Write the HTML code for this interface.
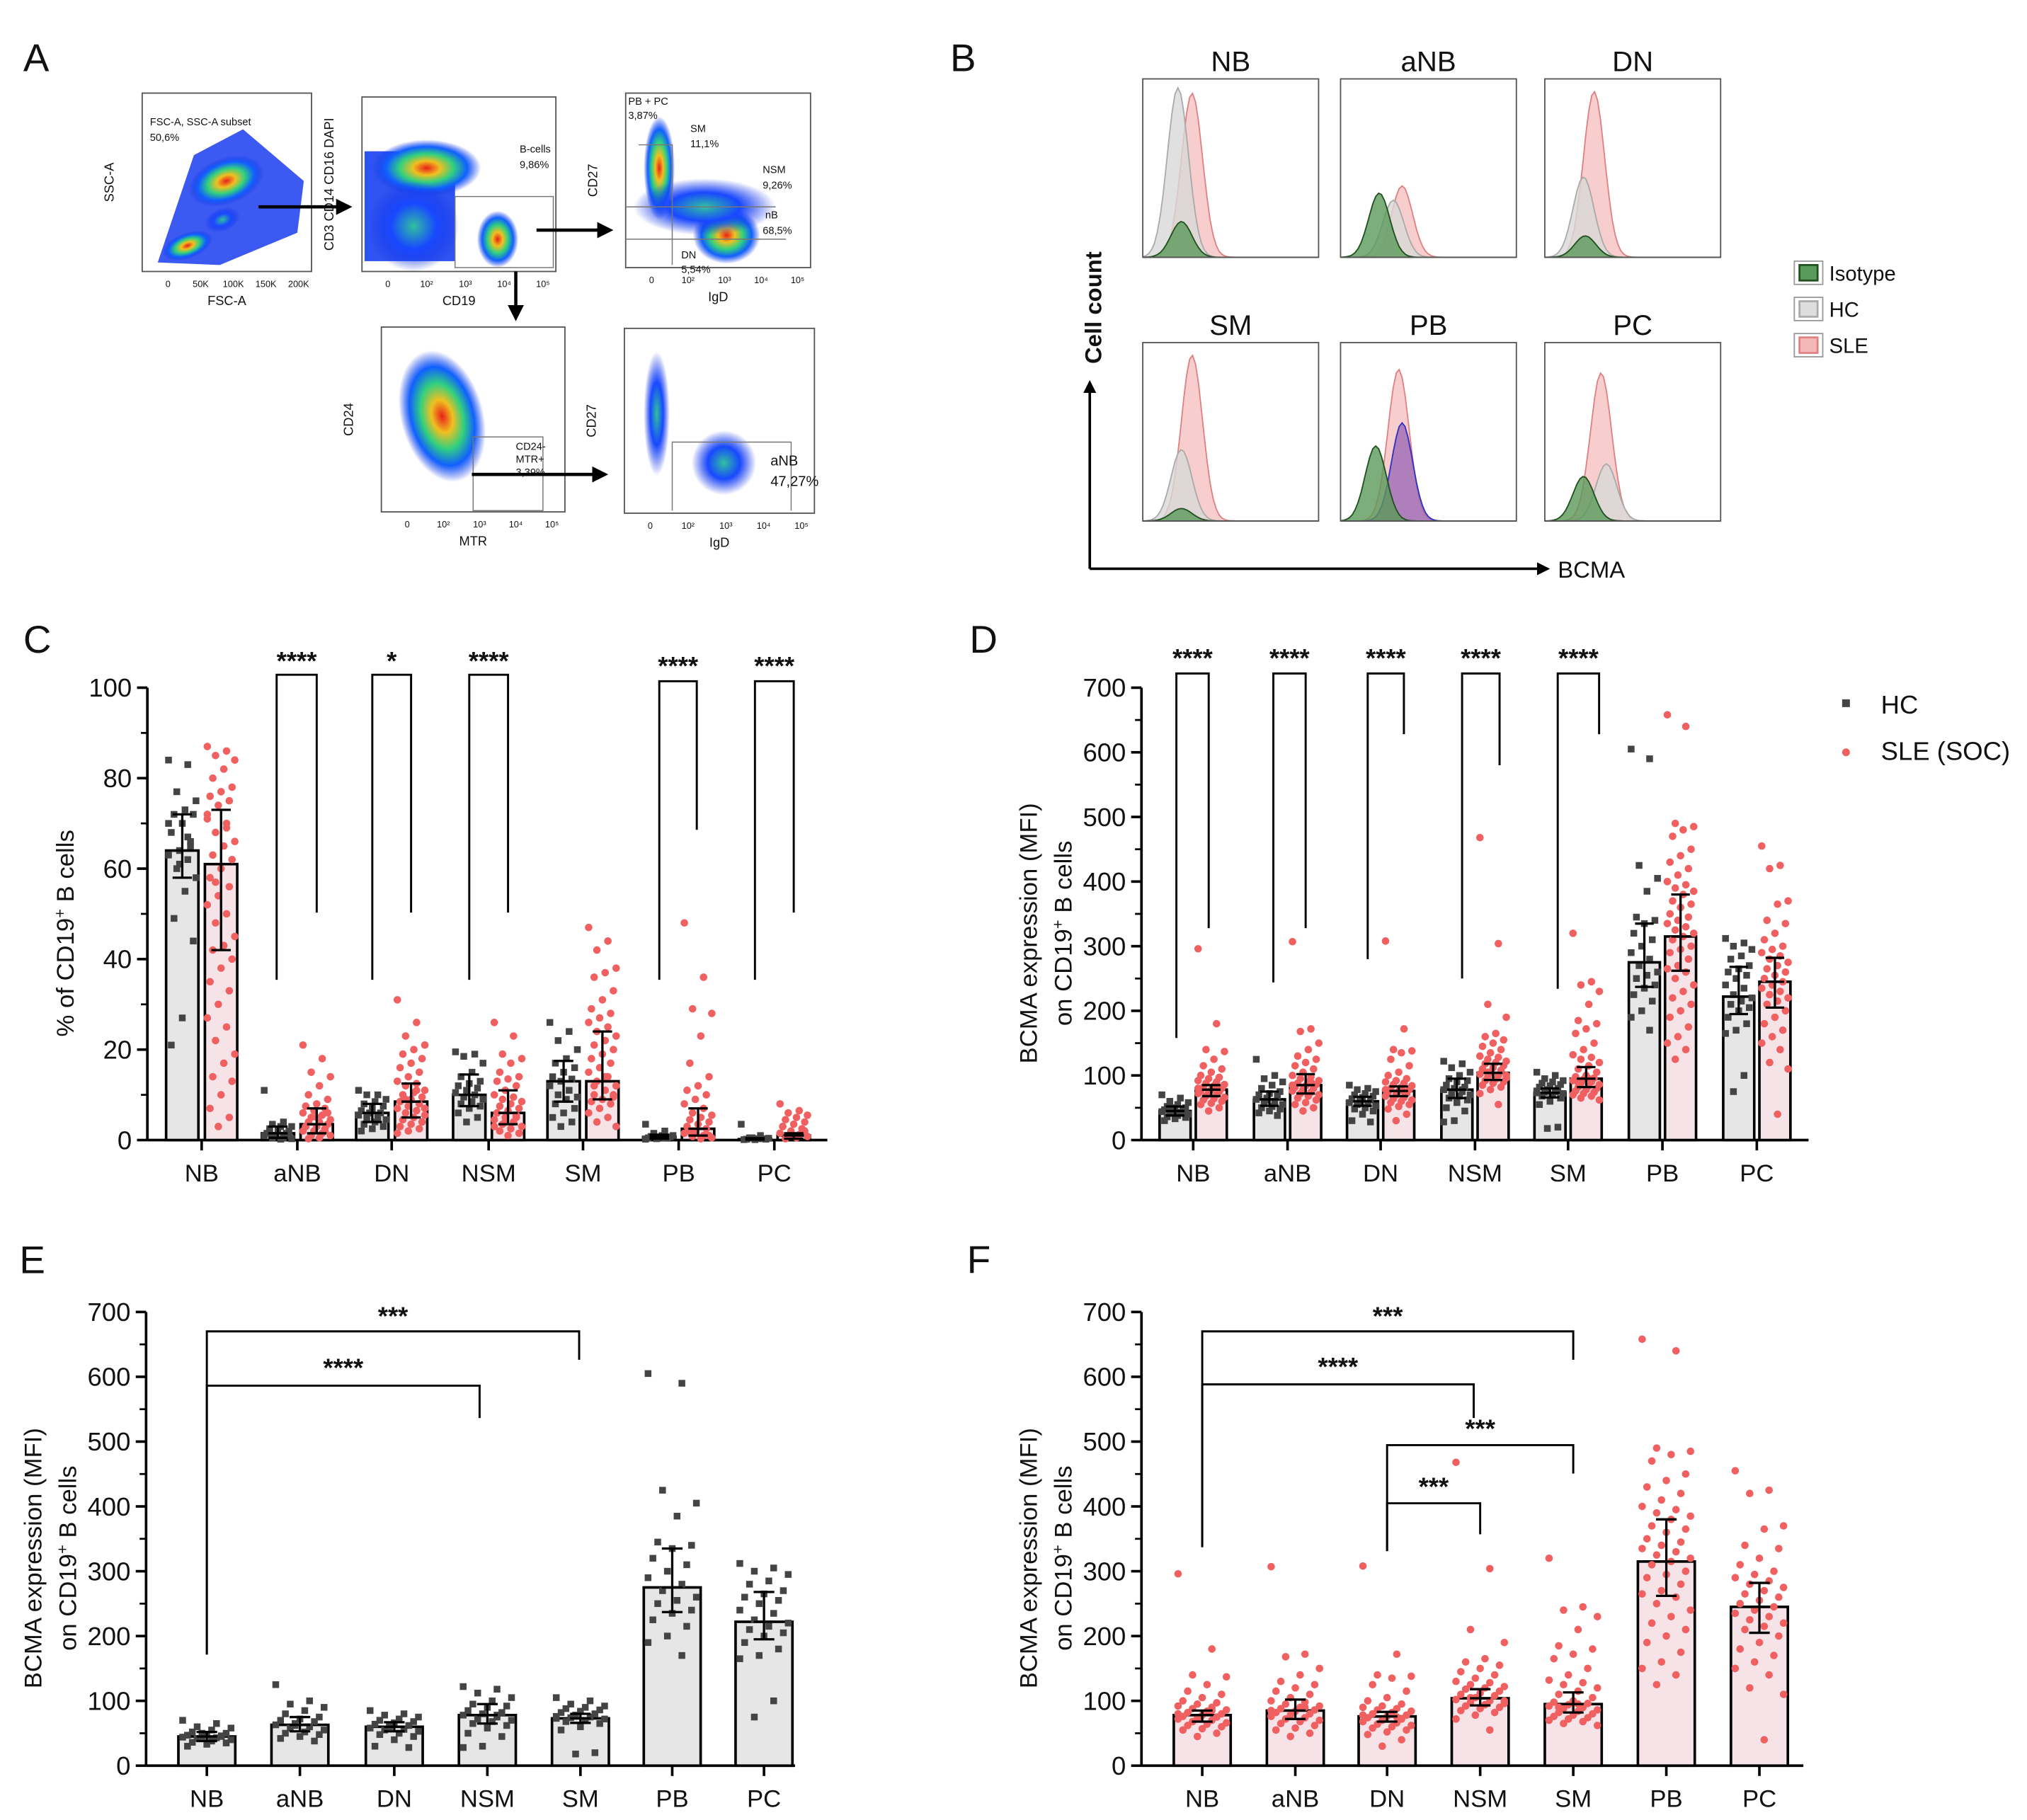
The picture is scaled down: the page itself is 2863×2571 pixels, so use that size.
<!DOCTYPE html>
<html><head><meta charset="utf-8"><style>
html,body{margin:0;padding:0;background:#fff}
svg{display:block}
text{font-family:"Liberation Sans",sans-serif;fill:#111}
</style></head><body>
<svg id="fig" xmlns="http://www.w3.org/2000/svg" width="2863" height="2571" viewBox="0 0 1568 1408">
<defs>
<radialGradient id="heat" cx="50%" cy="50%" r="50%">
<stop offset="0" stop-color="#e8201a"/><stop offset="0.25" stop-color="#f0c020"/><stop offset="0.5" stop-color="#30d080"/><stop offset="0.75" stop-color="#1060ff"/><stop offset="1" stop-color="#1030e0" stop-opacity="0"/>
</radialGradient>
<radialGradient id="cool" cx="50%" cy="50%" r="50%">
<stop offset="0" stop-color="#30c0a0"/><stop offset="0.5" stop-color="#1848ff"/><stop offset="1" stop-color="#1030e0" stop-opacity="0"/>
</radialGradient>
<marker id="arr" viewBox="0 0 10 10" refX="8" refY="5" markerWidth="5" markerHeight="5" orient="auto"><path d="M0,0L10,5L0,10z" fill="#000"/></marker>
</defs>
<g id="panelA"></g>
<g id="panelB"></g>
<g id="panelC"></g>
<g id="panelD"></g>
<g id="panelE"></g>
<g id="panelF"></g>
</svg>
<script>
const categories = ["NB","aNB","DN","NSM","SM","PB","PC"];
// Panel C (% of CD19+ B cells)
const cHcMean = [64,1.5,6,10,13,0.7,0.2];
const cHcLo = [58,0.5,4,7.5,8.5,0.3,0.1];
const cHcHi = [72,3,8,14.5,17.5,1.2,0.4];
const cSleMean = [61,3.5,8.5,6,13,2.5,1];
const cSleLo = [42,1.5,5,3.5,9,1,0.3];
const cSleHi = [73,7,12.5,11,24,7,1.5];
const cHcPts = [
 [84,83,77,75,73,72,72,70,68,66,64,63,62,60,58,55,49,44,27,21,65,61,70,67],
 [11,4,3.5,3,3,2.5,2,2,1.5,1.5,1,1,0.5,0.5,0.3,0.2,2,1],
 [11,10,10,9,8.5,8,7.5,7,6.5,6,6,5.5,5,5,4.5,4,3.5,3,2.5,2],
 [19.5,19,18.5,17,15,14,13,12.5,12,11.5,11,10.5,10,9.5,9,8.5,8,7.5,7,6,5,4],
 [26,24,22,20,18,17,16,15,14,13.5,13,12,11,10,9.5,9,8,7,6,5,4,3],
 [3.5,2,1.5,1,1,0.8,0.7,0.6,0.5,0.4,0.3,0.2,0.5,1.2],
 [3.5,1,0.5,0.4,0.3,0.2,0.2,0.1,0.1,0.3,0.5]];
const cSlePts = [
 [87,86,85,84,82,80,78,77,76,75,74,72,70,68,66,65,63,62,60,58,56,54,52,50,48,45,43,42,40,38,35,33,30,27,25,22,19,17,14,13,10,7,5,3,71,69,57],
 [21,18,15,14,12,10,9,8,7.5,7,6.5,6,5.5,5,4.5,4,4,3.5,3,3,2.5,2,2,1.5,1,1,0.5,0.3,6,5,3,2],
 [31,26,23,21,20,19,18,17,16,15,14,13,12.5,12,11,10.5,10,9.5,9,8.5,8,7.5,7,6.5,6,5.5,5,4.5,4,3.5,3,2.5,2,1.5,11,9,7],
 [26,23,19,18,17,15,14,13.5,13,12,11,10,9.5,9,8.5,8,7.5,7,6.5,6,5.5,5,4.5,4,3.5,3,2.5,2,1.5,1,6,5,4,3],
 [47,44,42,38,37,36,33,31,29,28,27,26,25,24,23,22,21,20,19,18,17,16,15,14,13,12,11,10,9.5,9,8.5,8,7,6,5,4,3,14,12,10],
 [48,36,29,28,23,17,14,12,11,10,9,8,7,6,5.5,5,4.5,4,3.5,3,2.5,2,1.5,1,0.8,0.5,0.3,2,1],
 [8,6.5,6,5.5,5,4.5,4,3.5,3,2.5,2,1.5,1.2,1,0.8,0.5,0.3,2,1,3]];
const cTicks = [0,20,40,60,80,100];
// Panel D/E/F (BCMA MFI)
const dHcMean = [45,63,60,78,73,275,222];
const dHcLo = [38,53,53,65,66,237,195];
const dHcHi = [52,75,67,95,80,335,268];
const dSleMean = [78,85,76,104,95,315,245];
const dSleLo = [68,72,68,93,82,262,205];
const dSleHi = [85,102,83,118,113,380,282];
const dHcPts = [
 [70,65,60,58,55,52,50,48,47,46,45,44,43,42,40,38,36,35,33,30,45,50],
 [125,100,95,90,85,80,75,72,70,68,65,63,60,58,55,52,50,48,45,42,38,62],
 [85,80,78,75,72,70,68,66,64,62,60,58,56,55,53,50,48,45,40,30,28,62],
 [122,118,112,105,100,95,92,90,85,82,80,78,75,72,70,68,65,62,58,50,45,30,28,78],
 [105,100,95,92,90,88,86,84,82,80,78,76,75,74,72,70,68,65,60,55,20,18,73],
 [605,590,425,405,385,345,340,335,320,310,300,290,280,270,260,255,250,240,235,225,215,200,190,170],
 [312,305,300,295,285,280,270,265,260,255,250,240,235,225,220,215,210,205,200,190,180,170,165,100,75]];
const dSlePts = [
 [296,180,140,137,125,115,110,105,100,97,95,92,90,88,86,84,82,80,78,76,75,73,72,70,68,66,64,62,60,57,55,50,45,80,85],
 [307,172,168,150,140,130,125,120,115,110,105,100,98,95,92,90,88,86,84,82,80,78,76,74,72,70,68,65,62,58,55,50,45,85,90],
 [308,172,140,138,135,125,115,105,100,95,92,90,88,86,84,82,80,78,76,74,72,70,68,66,64,62,60,58,55,52,48,40,30,78,75],
 [468,304,210,190,165,160,155,150,145,140,135,130,128,125,122,120,118,115,112,110,108,105,102,100,98,96,94,92,90,88,85,82,78,72,55,105,100],
 [320,245,240,230,210,185,180,172,165,150,140,132,128,125,120,115,110,105,100,98,96,94,92,90,88,86,84,82,80,78,76,74,72,70,68,65,62,95,90],
 [658,640,490,485,480,470,450,440,430,420,410,400,395,390,385,380,370,365,360,350,345,340,335,330,325,320,315,310,300,295,290,280,270,265,260,250,240,230,220,210,200,190,175,160,150,140,125],
 [455,425,420,370,365,340,335,320,310,300,295,290,285,280,275,270,265,260,255,250,245,240,235,230,225,220,215,210,200,190,180,170,160,150,140,120,110,40]];
const dTicks = [0,100,200,300,400,500,600,700];

const NS="http://www.w3.org/2000/svg";
function mk(parent,tag,attrs,txt){const e=document.createElementNS(NS,tag);for(const k in attrs)e.setAttribute(k,attrs[k]);if(txt!==undefined)e.textContent=txt;parent.appendChild(e);return e;}

function chart(g,cfg){
  const {x0,x1,y0,yTop,vmax,ticks,minor,centers,groups,title,ylab,ylab2,letter,lx,ly} = cfg;
  const ys=v=>y0-(v/vmax)*(y0-yTop);
  let t=mk(g,'text',{x:lx,y:ly,'font-size':30},letter);
  
  
  let ax=mk(g,'line',{x1:x0,y1:y0,x2:x0,y2:yTop,stroke:'#000','stroke-width':2});
  
  
  let bx=mk(g,'line',{x1:x0,y1:y0,x2:x1,y2:y0,stroke:'#000','stroke-width':2});
  
  
  ticks.forEach(v=>{
    mk(g,'line',{x1:x0-8,y1:ys(v),x2:x0,y2:ys(v),stroke:'#000','stroke-width':2});
    let tl=mk(g,'text',{x:x0-12,y:ys(v)+7,'font-size':20,'text-anchor':'end'},String(v));
    
    
  });
  if(minor) for(let v=minor;v<vmax;v+=minor*2) mk(g,'line',{x1:x0-5,y1:ys(v),x2:x0,y2:ys(v),stroke:'#000','stroke-width':1.5});
  categories.forEach((c,i)=>{
    mk(g,'line',{x1:centers[i],y1:y0,x2:centers[i],y2:y0+8,stroke:'#000','stroke-width':2});
    let xl=mk(g,'text',{x:centers[i],y:y0+32,'font-size':19,'text-anchor':'middle'},c);
    
    
  });
  groups.forEach(gr=>{
    categories.forEach((c,i)=>{
      const cx=centers[i]+gr.off, hw=gr.w/2;
      let b=mk(g,'rect',{x:cx-hw,y:ys(gr.mean[i]),width:gr.w,height:y0-ys(gr.mean[i]),fill:gr.fill,stroke:'#000','stroke-width':2});
      
      
      gr.pts[i].forEach((v,j)=>{
        const dx=(((j*7)%11)-5)/5*hw*0.85;
        let p;
        if(gr.square) p=mk(g,'rect',{x:cx+dx-2.6,y:ys(v)-2.6,width:5.2,height:5.2,fill:'#444'});
        else p=mk(g,'circle',{cx:cx+dx,cy:ys(v),r:2.9,fill:'#f06060'});
        
        
      });
      const lo=ys(gr.lo[i]),hi=ys(gr.hi[i]),cw=Math.min(8,hw*0.6);
      let e=mk(g,'path',{d:`M${cx},${lo}V${hi}M${cx-cw},${lo}H${cx+cw}M${cx-cw},${hi}H${cx+cw}M${cx-cw},${ys(gr.mean[i])}H${cx+cw}`,stroke:'#000','stroke-width':1.8,fill:'none'});
      
      
    });
  });
  const yc=(y0+yTop)/2+15;
  if(ylab2){
    let a=mk(g,'text',{x:0,y:0,'font-size':19,'text-anchor':'middle',transform:`translate(${cfg.tx},${yc}) rotate(-90)`},ylab);
    
    
    let b=mk(g,'text',{x:0,y:0,'font-size':19,'text-anchor':'middle',transform:`translate(${cfg.tx+27},${yc}) rotate(-90)`});
    b.innerHTML=ylab2;
    
    
  } else {
    let a=mk(g,'text',{x:0,y:0,'font-size':19,'text-anchor':'middle',transform:`translate(${cfg.tx},${yc}) rotate(-90)`});
    a.innerHTML=ylab;
    
    
  }
  return ys;
}
function bracket(g,xl,xr,top,bl,br,stars,sy){
  let p=mk(g,'path',{d:`M${xl},${bl}V${top}H${xr}V${br}`,stroke:'#000','stroke-width':1.6,fill:'none'});
  
  
  let t=mk(g,'text',{x:(xl+xr)/2,y:sy,'font-size':20,'font-weight':'bold','text-anchor':'middle'},stars);
  
  
}
const sup='CD19<tspan baseline-shift="super" font-size="12">+</tspan>';
// Panel C
const gC=document.getElementById('panelC');
chart(gC,{x0:114,x1:640,y0:882,yTop:532,vmax:100,ticks:cTicks,minor:10,
 centers:[156,230,303,378,451,525,599],letter:'C',lx:18,ly:505,tx:57,
 ylab:'% of '+sup+' B cells',
 groups:[{key:'hc',off:-15,w:25,fill:'#e6e6e6',mean:cHcMean,lo:cHcLo,hi:cHcHi,pts:cHcPts,square:true},
         {key:'sle',off:15,w:25,fill:'#f5e3e8',mean:cSleMean,lo:cSleLo,hi:cSleHi,pts:cSlePts,square:false}]});
bracket(gC,214,245,522,758,706,'****',518);
bracket(gC,288,318,522,758,706,'*',518);
bracket(gC,363,393,522,758,706,'****',518);
bracket(gC,510,539,527,758,642,'****',522);
bracket(gC,584,614,527,758,706,'****',522);
// Panel D
const gD=document.getElementById('panelD');
chart(gD,{x0:883,x1:1399,y0:882,yTop:532,vmax:700,ticks:dTicks,minor:50,
 centers:[923,996,1068,1141,1213,1286,1359],letter:'D',lx:750,ly:505,tx:802,
 ylab:'BCMA expression (MFI)',ylab2:'on '+sup+' B cells',
 groups:[{key:'hc',off:-14,w:24,fill:'#e6e6e6',mean:dHcMean,lo:dHcLo,hi:dHcHi,pts:dHcPts,square:true},
         {key:'sle',off:14,w:24,fill:'#f5e3e8',mean:dSleMean,lo:dSleLo,hi:dSleHi,pts:dSlePts,square:false}]});
bracket(gD,910,935,521,803,718,'****',516);
bracket(gD,985,1010,521,760,718,'****',516);
bracket(gD,1058,1086,521,742,568,'****',516);
bracket(gD,1131,1160,521,757,592,'****',516);
bracket(gD,1205,1237,521,765,568,'****',516);
let lg=mk(gD,'g',{});


mk(lg,'rect',{x:1425,y:541,width:6,height:6,fill:'#444'});
mk(lg,'text',{x:1455,y:552,'font-size':20},'HC');
mk(lg,'circle',{cx:1428,cy:582,r:3,fill:'#f06060'});
mk(lg,'text',{x:1455,y:588,'font-size':20},'SLE (SOC)');
// Panel E
const gE=document.getElementById('panelE');
chart(gE,{x0:113,x1:615,y0:1366,yTop:1015,vmax:700,ticks:dTicks,minor:50,
 centers:[160,232,305,377,449,520,591],letter:'E',lx:15,ly:985,tx:32,
 ylab:'BCMA expression (MFI)',ylab2:'on '+sup+' B cells',
 groups:[{key:'hc',off:0,w:44,fill:'#e6e6e6',mean:dHcMean,lo:dHcLo,hi:dHcHi,pts:dHcPts,square:true}]});
bracket(gE,160,448,1030,1280,1052,'***',1025);
bracket(gE,160,371,1072,1280,1097,'****',1065);
// Panel F
const gF=document.getElementById('panelF');
chart(gF,{x0:883,x1:1395,y0:1366,yTop:1015,vmax:700,ticks:dTicks,minor:50,
 centers:[930,1002,1073,1145,1217,1289,1361],letter:'F',lx:748,ly:985,tx:802,
 ylab:'BCMA expression (MFI)',ylab2:'on '+sup+' B cells',
 groups:[{key:'sle',off:0,w:44,fill:'#f5e3e8',mean:dSleMean,lo:dSleLo,hi:dSleHi,pts:dSlePts,square:false}]});
bracket(gF,930,1217,1030,1197,1052,'***',1025);
bracket(gF,930,1140,1071,1197,1097,'****',1064);
bracket(gF,1073,1217,1118,1200,1140,'***',1112);
bracket(gF,1073,1145,1163,1200,1187,'***',1157);

// Panel A: gating plots
const gA=document.getElementById('panelA');
let la=mk(gA,'text',{x:18,y:55,'font-size':30},'A');


const plotsA=[
 {x:110,y:72,w:131,h:138,xl:'FSC-A',yl:'SSC-A',name:'fsc-ssc-plot'},
 {x:280,y:75,w:150,h:135,xl:'CD19',yl:'CD3 CD14 CD16 DAPI',name:'cd19-plot'},
 {x:484,y:72,w:143,h:135,xl:'IgD',yl:'CD27',name:'igd-cd27-plot'},
 {x:295,y:253,w:142,h:143,xl:'MTR',yl:'CD24',name:'mtr-cd24-plot'},
 {x:483,y:254,w:147,h:143,xl:'IgD',yl:'CD27',name:'anb-igd-cd27-plot'}];
plotsA.forEach(p=>{
  let r=mk(gA,'rect',{x:p.x,y:p.y,width:p.w,height:p.h,fill:'#fff',stroke:'#555','stroke-width':1});
  
  
  mk(gA,'text',{x:p.x+p.w/2,y:p.y+p.h+26,'font-size':10,'text-anchor':'middle'},p.xl);
  mk(gA,'text',{x:0,y:0,'font-size':10,'text-anchor':'middle',transform:`translate(${p.x-22},${p.y+p.h/2}) rotate(-90)`},p.yl);
  ['0','10²','10³','10⁴','10⁵'].forEach((s,i)=>mk(gA,'text',{x:p.x+20+i*(p.w-30)/4,y:p.y+p.h+12,'font-size':7,'text-anchor':'middle'},p.name==='fsc-ssc-plot'?['0','50K','100K','150K','200K'][i]:s));
});
// blobs
function blob(cx,cy,rx,ry,grad,rot){mk(gA,'ellipse',{cx,cy,rx,ry,fill:`url(#${grad})`,transform:`rotate(${rot||0} ${cx} ${cy})`});}
mk(gA,'path',{d:'M122,203 L150,120 L188,100 L235,140 L230,180 L170,205 Z',fill:'#1a3cf0',opacity:0.85});
blob(175,140,30,18,'heat',-20);blob(145,190,20,10,'heat',-20);blob(172,170,14,9,'cool',-20);
mk(gA,'rect',{x:282,y:117,width:70,height:85,fill:'#1840f0',opacity:0.9});
blob(330,130,42,22,'heat',0);blob(320,175,35,35,'cool',0);blob(385,185,16,22,'heat',0);
mk(gA,'rect',{x:352,y:152,width:76,height:55,fill:'none',stroke:'#777','stroke-width':0.8});
blob(510,130,12,40,'heat',0);blob(562,182,26,22,'heat',0);blob(545,160,55,22,'cool',0);
mk(gA,'path',{d:'M494,112H520V205M484,160H600M484,185H608',fill:'none',stroke:'#777','stroke-width':0.8});
blob(342,322,32,52,'heat',-15);
mk(gA,'rect',{x:366,y:338,width:54,height:57,fill:'none',stroke:'#777','stroke-width':0.8});
blob(508,320,10,48,'cool',0);blob(560,358,25,25,'cool',0);
mk(gA,'path',{d:'M520,395V342H612V395',fill:'none',stroke:'#777','stroke-width':0.8});
[['FSC-A, SSC-A subset',116,97],['50,6%',116,109],['B-cells',402,118],['9,86%',402,130],['PB + PC',486,81],['3,87%',486,92],['SM',534,102],['11,1%',534,114],['NSM',590,134],['9,26%',590,146],['nB',592,169],['68,5%',590,181],['DN',527,200],['5,54%',527,211],['CD24-',399,348],['MTR+',399,358],['3,39%',399,368],['aNB',596,360],['47,27%',596,376]].forEach(a=>mk(gA,'text',{x:a[1],y:a[2],'font-size':a[0]==='aNB'||a[0]==='47,27%'?11:8},a[0]));
[[200,160,270,160],[415,178,472,178],[399,210,399,246],[365,367,468,367]].forEach(a=>{let l=mk(gA,'line',{x1:a[0],y1:a[1],x2:a[2],y2:a[3],stroke:'#000','stroke-width':2.5,'marker-end':'url(#arr)'});});

// Panel B: histograms
const gB=document.getElementById('panelB');
let lb=mk(gB,'text',{x:735,y:55,'font-size':30},'B');


const histTitles=['NB','aNB','DN','SM','PB','PC'];
const histX=[884,1037,1195,884,1037,1195], histY=[61,61,61,265,265,265];
// peaks: [isotype(pos,h), hc(pos,h), sle(pos,h)] as fraction of box
const histPeaks=[[[0.22,0.2],[0.2,0.95],[0.28,0.92]],[[0.22,0.36],[0.3,0.32],[0.35,0.4]],[[0.23,0.12],[0.22,0.45],[0.28,0.93]],[[0.22,0.07],[0.22,0.4],[0.28,0.93]],[[0.2,0.42],[0.35,0.55],[0.33,0.85]],[[0.22,0.25],[0.35,0.32],[0.32,0.83]]];
function hpath(bx,by,w,h,pos,ht,sd){
  let d=`M${bx+4},${by+h}`;
  for(let i=0;i<=60;i++){const u=i/60;const x=bx+u*w;const y=by+h-ht*h*Math.exp(-((u-pos)**2)/(2*sd*sd));d+=`L${x.toFixed(1)},${y.toFixed(1)}`;}
  return d+'Z';
}
histTitles.forEach((tt,i)=>{
  const bx=histX[i],by=histY[i],w=136,h=138;
  let ti=mk(gB,'text',{x:bx+w/2,y:by-6,'font-size':22,'text-anchor':'middle'},tt);
  
  
  const pk=histPeaks[i];
  const cols=[['#f4b8b8','#e08080',2],['#d8d8d8','#aaa',1],['#5a9a5a','#205020',0]];
  [2,1,0].forEach(k=>{
    const c=(i===4&&k===1)?['#9b6bb5','#3030c0']:[cols[2-k][0],cols[2-k][1]];
    let p=mk(gB,'path',{d:hpath(bx,by,w,h,pk[k][0],pk[k][1],0.06),fill:c[0],'fill-opacity':k===2?0.7:0.8,stroke:c[1],'stroke-width':1});
    
    
  });
  let r=mk(gB,'rect',{x:bx,y:by,width:w,height:h,fill:'none',stroke:'#555','stroke-width':1});
  
  
});
let ccl=mk(gB,'text',{x:0,y:0,'font-size':18,'text-anchor':'middle','font-weight':'bold',transform:'translate(852,238) rotate(-90)'},'Cell count');


mk(gB,'path',{d:'M843,440V296',stroke:'#000','stroke-width':2,'marker-end':'url(#arr)',fill:'none'});
mk(gB,'path',{d:'M843,440H1197',stroke:'#000','stroke-width':2,'marker-end':'url(#arr)',fill:'none'});
let bcm=mk(gB,'text',{x:1205,y:447,'font-size':18},'BCMA');


[['Isotype','#5a9a5a','#205020',210],['HC','#ddd','#aaa',238],['SLE','#f4b8b8','#e08080',266]].forEach(l=>{
  mk(gB,'rect',{x:1388,y:l[3]-8,width:22,height:18,fill:'#fff',stroke:'#999'});
  let s=mk(gB,'rect',{x:1392,y:l[3]-5,width:14,height:12,fill:l[1],stroke:l[2],'stroke-width':1.5});
  
  
  let t=mk(gB,'text',{x:1415,y:l[3]+7,'font-size':16},l[0]);
  
  
});
</script>
</body></html>
